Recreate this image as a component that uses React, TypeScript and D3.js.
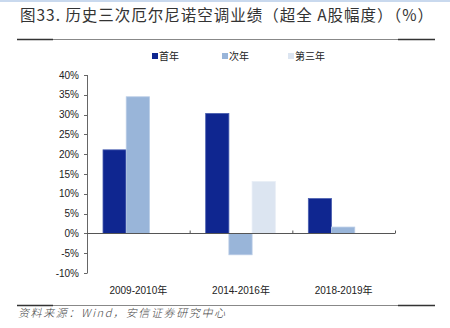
import React from "react";
import * as d3 from "d3";

const categories = ["2009-2010年", "2014-2016年", "2018-2019年"];
const seriesNames = ["首年", "次年", "第三年"];
const firstYear = [21.1, 30.3, 8.8];
const secondYear = [34.5, -5.4, 1.6];
const thirdYear: (number | null)[] = [null, 13.1, null];
const yTicks = [-10, -5, 0, 5, 10, 15, 20, 25, 30, 35, 40];
const colors = ["#0F2690", "#99B5D9", "#DCE5F1"];
const strokeColors = ["#4A5FB0", "#B9CCE6", "#E8EEF6"];

const W = 450;
const H = 328;
const left = 87;
const right = 395;
const top = 75;
const bottom = 273;

export default function App() {
  const x = d3.scaleBand<string>().domain(categories).range([left, right]).paddingInner(0).paddingOuter(0);
  const y = d3.scaleLinear().domain([-10, 40]).range([bottom, top]);
  const inner = d3
    .scaleBand<string>()
    .domain(seriesNames)
    .range([16, x.bandwidth() - 17])
    .padding(0);
  const series = [firstYear, secondYear, thirdYear];
  const font = "'Liberation Sans', Arial, 'Noto Sans CJK SC', sans-serif";
  const cjk = "'Noto Sans CJK SC', sans-serif";
  const legendX = [152, 222, 288];

  return (
    <svg width={W} height={H} style={{ position: "absolute", left: 0, top: 0, background: "#fff" }}>
      <rect x={0} y={0} width={W} height={2} fill="#C9D9EE" />
      <text x={20} y={21} fontFamily={cjk} fontSize={15.5} fontWeight={400} fill="#333" textLength={413}>
        图33. 历史三次厄尔尼诺空调业绩（超全 A股幅度）（%）
      </text>
      <line x1={17} x2={435} y1={39.5} y2={39.5} stroke="#888" strokeWidth={1} />
      <line x1={17} x2={53} y1={39.5} y2={39.5} stroke="#333" strokeWidth={1.5} />
      <line x1={398} x2={435} y1={39.5} y2={39.5} stroke="#333" strokeWidth={1.5} />

      {seriesNames.map((s, i) => (
        <g key={s}>
          <rect x={legendX[i]} y={53} width={6} height={6} fill={colors[i]} />
          <text x={legendX[i] + 7} y={60} fontFamily={cjk} fontSize={10} fill="#222">
            {s}
          </text>
        </g>
      ))}

      {series.map((vals, si) =>
        categories.map((c, ci) => {
          const v = vals[ci];
          if (v === null || v === undefined) return null;
          const bx = (x(c) ?? 0) + (inner(seriesNames[si]) ?? 0);
          const y0 = y(0);
          const y1 = y(v);
          return (
            <rect
              key={si + "-" + ci}
              x={bx}
              y={Math.min(y0, y1)}
              width={inner.bandwidth()}
              height={Math.abs(y1 - y0)}
              fill={colors[si]}
              stroke={strokeColors[si]}
              strokeWidth={0.8}
            />
          );
        })
      )}

      <line x1={left + 0.5} x2={left + 0.5} y1={y(40)} y2={y(-10)} stroke="#666" strokeWidth={1} />
      {yTicks.map((t) => (
        <g key={t}>
          <line x1={left - 3} x2={left + 0.5} y1={Math.round(y(t)) + 0.5} y2={Math.round(y(t)) + 0.5} stroke="#666" />
          <text x={79} y={y(t) + 3.5} textAnchor="end" fontFamily={font} fontSize={10} fill="#222">
            {t + "%"}
          </text>
        </g>
      ))}

      <line x1={left} x2={right} y1={Math.round(y(0)) + 0.5} y2={Math.round(y(0)) + 0.5} stroke="#555" strokeWidth={1} />
      {categories.map((c) => (
        <line
          key={c + "t"}
          x1={(x(c) ?? 0) + x.bandwidth() + 0.5}
          x2={(x(c) ?? 0) + x.bandwidth() + 0.5}
          y1={Math.round(y(0)) + 0.5}
          y2={Math.round(y(0)) - 2.5}
          stroke="#555"
        />
      ))}
      {categories.map((c) => (
        <text
          key={c}
          x={(x(c) ?? 0) + x.bandwidth() / 2}
          y={294}
          textAnchor="middle"
          fontFamily={font}
          fontSize={10}
          fill="#222"
        >
          {c}
        </text>
      ))}

      <line x1={17} x2={435} y1={305.5} y2={305.5} stroke="#888" strokeWidth={1} />
      <line x1={17} x2={53} y1={305.5} y2={305.5} stroke="#333" strokeWidth={1.5} />
      <line x1={398} x2={435} y1={305.5} y2={305.5} stroke="#333" strokeWidth={1.5} />
      <text x={18} y={317} fontFamily={cjk} fontSize={11} fontStyle="italic" fontWeight={300} fill="#444" textLength={207}>
        资料来源：Wind，安信证券研究中心
      </text>
    </svg>
  );
}
